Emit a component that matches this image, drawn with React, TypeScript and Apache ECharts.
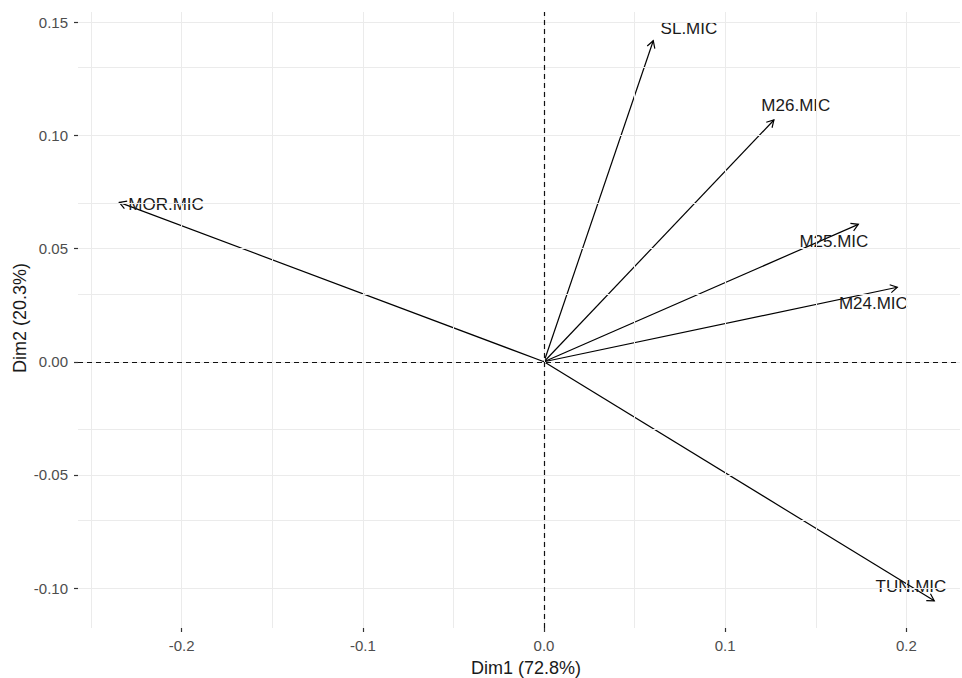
import React, { useEffect, useRef } from "react";
import * as echarts from "echarts";

const variables = ["SL.MIC", "M26.MIC", "M25.MIC", "M24.MIC", "TUN.MIC", "MOR.MIC"];
const dim1 = [0.0603, 0.1269, 0.1735, 0.195, 0.2154, -0.2344];
const dim2 = [0.1418, 0.1068, 0.0607, 0.0329, -0.1056, 0.0704];
const labelDim1 = [0.08, 0.139, 0.16, 0.1818, 0.2025, -0.2086];
const labelDim2 = [0.1474, 0.113, 0.053, 0.0259, -0.0994, 0.0695];

const xTicks = [-0.2, -0.1, 0.0, 0.1, 0.2];
const yTicks = [-0.1, -0.05, 0.0, 0.05, 0.1, 0.15];
const xMinor = [-0.25, -0.15, -0.05, 0.05, 0.15];
const yMinor = [-0.075, -0.025, 0.025, 0.075, 0.125];

const xTitle = "Dim1 (72.8%)";
const yTitle = "Dim2 (20.3%)";

const FONT = "'Liberation Sans', Arial, sans-serif";

export default function App() {
  const ref = useRef<HTMLDivElement>(null);
  useEffect(() => {
    if (!ref.current) return;
    const chart = echarts.init(ref.current, undefined, { renderer: "svg" });
    const gridLineData = [
      ...xTicks.map((v) => ({ xAxis: v })),
      ...xMinor.map((v) => ({ xAxis: v })),
      ...yTicks.map((v) => ({ yAxis: v })),
      ...yMinor.map((v) => ({ yAxis: v })),
    ];
    const option: any = {
      animation: false,
      backgroundColor: "#ffffff",
      grid: { left: 78, right: 2, top: 12, bottom: 50, containLabel: false },
      xAxis: {
        type: "value",
        min: -0.2572,
        max: 0.2296,
        axisLine: { show: false, onZero: false },
        splitLine: { show: false },
        axisTick: {
          show: true,
          customValues: xTicks,
          length: 4,
          lineStyle: { color: "#333333", width: 1.2 },
        },
        axisLabel: {
          customValues: xTicks,
          margin: 10,
          color: "#4D4D4D",
          fontSize: 15,
          fontFamily: FONT,
          formatter: (v: number) => v.toFixed(1),
        },
      },
      yAxis: {
        type: "value",
        min: -0.1176,
        max: 0.1545,
        axisLine: { show: false, onZero: false },
        splitLine: { show: false },
        axisTick: {
          show: true,
          customValues: yTicks,
          length: 4,
          lineStyle: { color: "#333333", width: 1.2 },
        },
        axisLabel: {
          customValues: yTicks,
          margin: 10,
          color: "#4D4D4D",
          fontSize: 15,
          fontFamily: FONT,
          formatter: (v: number) => v.toFixed(2),
        },
      },
      graphic: [
        {
          type: "text",
          x: 526,
          y: 668,
          style: {
            text: xTitle,
            fill: "#1A1A1A",
            fontSize: 18,
            fontFamily: FONT,
            align: "center",
            verticalAlign: "middle",
          },
        },
        {
          type: "text",
          x: 20,
          y: 318,
          rotation: Math.PI / 2,
          style: {
            text: yTitle,
            fill: "#1A1A1A",
            fontSize: 18,
            fontFamily: FONT,
            align: "center",
            verticalAlign: "middle",
          },
        },
      ],
      series: [
        {
          type: "line",
          data: [],
          z: 1,
          silent: true,
          markLine: {
            silent: true,
            symbol: ["none", "none"],
            label: { show: false },
            lineStyle: { color: "#EBEBEB", width: 1, type: "solid" },
            data: gridLineData,
          },
        },
        {
          type: "line",
          data: [],
          z: 2,
          silent: true,
          markLine: {
            silent: true,
            symbol: ["none", "none"],
            label: { show: false },
            lineStyle: { color: "#111111", width: 1.2, type: [5, 4] },
            data: [{ xAxis: 0 }, { yAxis: 0 }],
          },
        },
        {
          type: "custom",
          z: 3,
          silent: true,
          data: dim1.map((x, i) => [x, dim2[i]]),
          encode: { x: 0, y: 1 },
          renderItem: (params: any, api: any) => {
            const o = api.coord([0, 0]);
            const p = api.coord([api.value(0), api.value(1)]);
            const ang = Math.atan2(p[1] - o[1], p[0] - o[0]);
            const L = 8;
            const a = Math.PI / 6;
            const h1 = [p[0] - L * Math.cos(ang - a), p[1] - L * Math.sin(ang - a)];
            const h2 = [p[0] - L * Math.cos(ang + a), p[1] - L * Math.sin(ang + a)];
            return {
              type: "group",
              children: [
                {
                  type: "line",
                  shape: { x1: o[0], y1: o[1], x2: p[0], y2: p[1] },
                  style: { stroke: "#000000", lineWidth: 1.2 },
                },
                {
                  type: "polyline",
                  shape: { points: [h1, p, h2] },
                  style: { stroke: "#000000", fill: "none", lineWidth: 1.2 },
                },
              ],
            };
          },
        },
        {
          type: "custom",
          z: 4,
          silent: true,
          data: labelDim1.map((x, i) => [x, labelDim2[i]]),
          encode: { x: 0, y: 1 },
          renderItem: (params: any, api: any) => {
            const p = api.coord([api.value(0), api.value(1)]);
            return {
              type: "text",
              x: p[0],
              y: p[1],
              style: {
                text: variables[params.dataIndex],
                fill: "#1A1A1A",
                fontSize: 17,
                fontFamily: FONT,
                align: "center",
                verticalAlign: "middle",
              },
            };
          },
        },
      ],
    };
    chart.setOption(option);
    return () => chart.dispose();
  }, []);
  return (
    <div
      ref={ref}
      style={{ position: "fixed", left: 0, top: 0, width: 962, height: 678 }}
    />
  );
}
